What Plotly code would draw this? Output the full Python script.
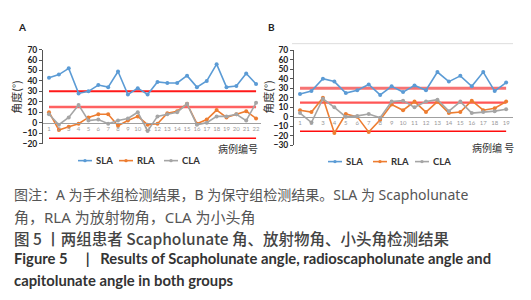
import plotly.graph_objects as go

W, H = 531, 300

# ---------------- data ----------------
cases_a = list(range(1, 23))
sla_a = [43, 46, 52, 28, 30, 36, 34, 49, 27, 33, 27, 39, 38, 38, 45, 34, 40, 56, 34, 35, 47, 37]
rla_a = [10, -7, -4, -1, 5, 8, 8, -3, 2, 6, -2, -1, 9, 11, 18, -1, 3, 12, 5, 8, 11, 4]
cla_a = [8, -2, 5, 17, 2, 3, -1, 2, 4, 10, -8, 6, 8, 10, 18, -2, 0, 6, 6, 8, 2, 19]

cases_b = list(range(1, 20))
sla_b = [24, 27, 40, 37, 25, 28, 34, 23, 32, 26, 33, 28, 47, 37, 43, 32, 47, 27, 36]
rla_b = [7, 5, 20, -17, 3, 0, -16, -3, 13, 7, 16, 5, 16, 4, 5, 17, 7, 9, 16]
cla_b = [4, -6, 19, 10, 0, 1, 3, -1, 16, 17, 10, 16, 18, 6, 16, 4, 5, 6, 8]

ref_levels = [30, 15, -15]
series_names = ["SLA", "RLA", "CLA"]
series_colors = ["#5B9BD5", "#ED7D31", "#A5A5A5"]

FONT = "Lato, Noto Sans CJK SC, sans-serif"
CJK = "Noto Sans CJK SC, Lato, sans-serif"
CAP = "Noto Sans, Noto Sans CJK SC, sans-serif"

fig = go.Figure()

ref_styles = {30: dict(color="rgba(255,0,0,0.9)", width=2),
              15: dict(color="rgba(255,30,30,0.7)", width=2.5),
              -15: dict(color="rgba(255,0,0,0.95)", width=1.5)}
ref_styles_b = {30: dict(color="rgba(245,90,90,0.85)", width=3),
                15: dict(color="rgba(255,30,30,0.75)", width=2.2),
                -15: dict(color="rgba(255,0,0,0.95)", width=1.5)}

def add_panel(cases, series, xa, ya, styles):
    for lvl in ref_levels:
        fig.add_trace(go.Scatter(x=cases, y=[lvl] * len(cases), mode="lines",
                                 line=styles[lvl], xaxis=xa, yaxis=ya,
                                 showlegend=False, hoverinfo="skip"))
    for name, vals, col in zip(series_names, series, series_colors):
        fig.add_trace(go.Scatter(x=cases, y=vals, mode="lines+markers", name=name,
                                 line=dict(color=col, width=1.6),
                                 marker=dict(color=col, size=4),
                                 xaxis=xa, yaxis=ya, showlegend=False))

add_panel(cases_a, [sla_a, rla_a, cla_a], "x", "y", ref_styles)
add_panel(cases_b, [sla_b, rla_b, cla_b], "x2", "y2", ref_styles_b)

def px_x(v):
    return v / W

def px_y(v):
    return 1 - v / H

yax_common = dict(showgrid=False, zeroline=False, showline=True, linecolor="#555",
                  linewidth=1, ticks="outside", ticklen=3, tickcolor="#555", dtick=10,
                  tickfont=dict(family=FONT, size=8.5, color="#222", weight="bold"))
xax_common = dict(showgrid=False, zeroline=False, showline=True, linecolor="#A0A0A0",
                  linewidth=1, ticks="", anchor="free",
                  tickfont=dict(family=FONT, size=6, color="#999"))

fig.update_layout(
    width=W, height=H, margin=dict(l=0, r=0, t=0, b=0),
    paper_bgcolor="white", plot_bgcolor="white",
    xaxis=dict(domain=[px_x(43), px_x(261)], range=[0.39, 22.5],
               position=px_y(121.7), tickvals=cases_a,
               ticktext=[str(c) for c in cases_a], **xax_common),
    yaxis=dict(domain=[px_y(143.3), px_y(46.1)], range=[-20, 70], anchor="x", **yax_common),
    xaxis2=dict(domain=[px_x(294), px_x(513)], range=[0.475, 19.6],
                position=px_y(115.7), tickvals=cases_b,
                ticktext=[str(c) for c in cases_b], **xax_common),
    yaxis2=dict(domain=[px_y(145.3), px_y(46.7)], range=[-30, 70], anchor="x2", **yax_common),
)

anns = []
shapes = []

def ann(x, y, text, size, color="#333", family=FONT, xanchor="left", weight="normal", angle=0):
    anns.append(dict(x=px_x(x), y=px_y(y), xref="paper", yref="paper", text=text,
                     showarrow=False, xanchor=xanchor, yanchor="middle", textangle=angle,
                     font=dict(family=family, size=size, color=color, weight=weight)))

# panel letters
ann(16, 23, "A", 10, color="#222", weight="bold")
ann(266, 23, "B", 10, color="#222", weight="bold")
# y titles
ann(16, 95, "角度(°)", 11, color="#333", family=CJK, xanchor="center", angle=-90)
ann(268, 95, "角度(°)", 11, color="#333", family=CJK, xanchor="center", angle=-90)
# x titles
ann(238, 148, "病例编号", 10, color="#333", family=CJK, xanchor="center")
ann(493, 147, "病例编 号", 10, color="#333", family=CJK, xanchor="center")

# top border line of panel B
shapes.append(dict(type="line", xref="paper", yref="paper", x0=px_x(292), x1=px_x(513),
                   y0=px_y(40), y1=px_y(40), line=dict(color="#DDDDDD", width=1)))

# legends
def legend(x0s, y):
    for name, col, x0 in zip(series_names, series_colors, x0s):
        shapes.append(dict(type="line", xref="paper", yref="paper", x0=px_x(x0), x1=px_x(x0 + 14),
                           y0=px_y(y), y1=px_y(y), line=dict(color=col, width=1.6)))
        shapes.append(dict(type="circle", xref="paper", yref="paper", x0=px_x(x0 + 5.3),
                           x1=px_x(x0 + 8.7), y0=px_y(y + 1.7), y1=px_y(y - 1.7),
                           fillcolor=col, line=dict(color=col, width=0)))
        ann(x0 + 16, y, name, 9.5, color="#333", weight="bold")

legend([78, 119, 164], 161)
legend([328, 373, 415], 162)

# caption
NB = "\u00a0"
ann(12, 196, "图注：A" + NB + "为手术组检测结果，B" + NB + "为保守组检测结果。SLA" + NB + "为" + NB + "Scapholunate",
    14, color="#555", family=CAP)
ann(12, 219, "角，RLA" + NB + "为放射物角，CLA" + NB + "为小头角", 15, color="#555", family=CAP)
ann(12, 241, "图" + NB + "5" + NB + "丨两组患者" + NB + "Scapholunate" + NB + "角、放射物角、小头角检测结果",
    15.5, color="#444", family=CJK, weight=500)
ann(12, 262, "Figure" + NB + "5" + NB * 5 + "|" + NB * 3 + "Results of Scapholunate angle, radioscapholunate angle and",
    14.8, color="#333", weight="bold")
ann(12, 284, "capitolunate angle in both groups", 14.8, color="#333", weight="bold")

fig.update_layout(annotations=anns, shapes=shapes)
fig.write_html("out.html", config={"displayModeBar": False},
               post_script="document.body.style.margin='0';document.body.style.padding='0';")
